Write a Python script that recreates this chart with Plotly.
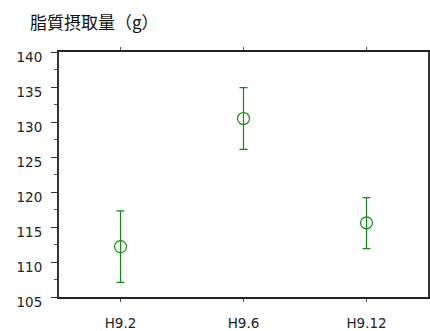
import plotly.graph_objects as go

# Fat intake by survey period: mean with error range
periods = ["H9.2", "H9.6", "H9.12"]
mean_g = [112.2, 130.5, 115.6]
err_up = [5.1, 4.4, 3.6]
err_down = [5.1, 4.4, 3.7]

green = "#118a11"
tick_font = dict(family="DejaVu Sans, Liberation Sans, sans-serif", size=13.5, color="#222")

fig = go.Figure(
    go.Scatter(
        x=periods,
        y=mean_g,
        mode="markers",
        marker=dict(symbol="circle-open", size=12, color=green, line=dict(width=1.2, color=green)),
        error_y=dict(type="data", symmetric=False, array=err_up, arrayminus=err_down,
                     color=green, thickness=1.2, width=4),
        showlegend=False,
    )
)

fig.update_layout(
    width=430,
    height=331,
    margin=dict(l=59, r=2, t=52, b=34, autoexpand=False),
    paper_bgcolor="white",
    plot_bgcolor="white",
    font=tick_font,
    title=dict(
        text="脂質摂取量（g）",
        font=dict(family="Noto Sans CJK JP", size=17, color="#111"),
        xref="container", x=30 / 430, xanchor="left",
        yref="container", y=1 - 23 / 331, yanchor="middle",
    ),
)

fig.update_xaxes(
    type="category",
    range=[-0.5, 2.5],
    automargin=False,
    showline=True, linecolor="#222", linewidth=1.5,
    mirror="ticks",
    ticks="outside", ticklen=3, tickcolor="#555", tickwidth=1,
    showgrid=False, zeroline=False,
    ticklabelstandoff=10,
    tickfont=tick_font,
)

fig.update_yaxes(
    range=[105, 140],
    tick0=105, dtick=5,
    automargin=False,
    showline=True, linecolor="#333", linewidth=2,
    mirror="ticks",
    ticks="outside", ticklen=6, tickcolor="#333", tickwidth=1,
    minor=dict(dtick=2.5, ticks="outside", ticklen=3, tickcolor="#555"),
    showgrid=False, zeroline=False,
    ticklabelstandoff=6,
    ticklabelshift=5,
    tickfont=tick_font,
)

fig.write_html("out.html")
